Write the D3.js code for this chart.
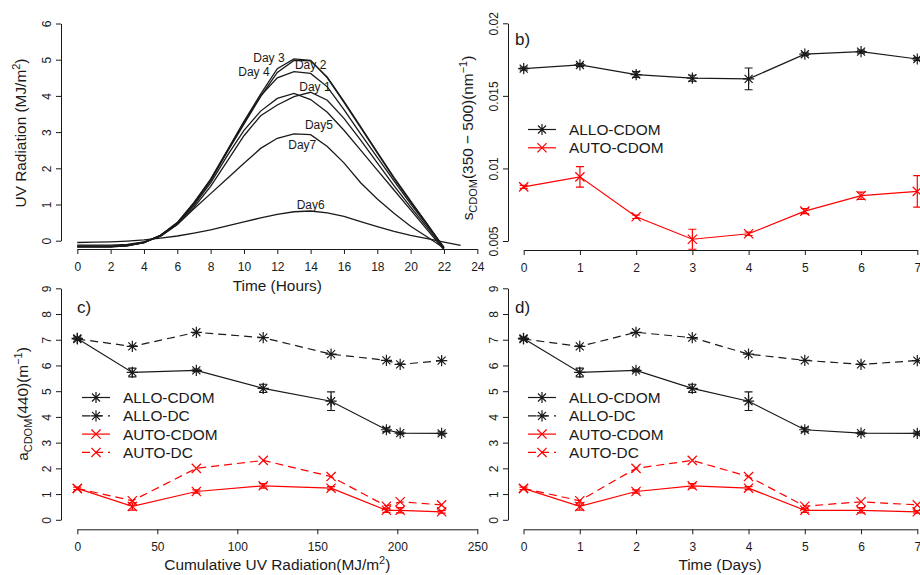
<!DOCTYPE html>
<html>
<head>
<meta charset="utf-8">
<script src="https://cdn.jsdelivr.net/npm/d3@7"></script>
<style>
  body { margin: 0; background: #fff; }
  svg { display: block; font-family: "Liberation Sans", Arial, sans-serif; }
</style>
</head>
<body>
<svg id="chart" width="920" height="575"></svg>
<script>
// a) hourly UV radiation per day
const hours = d3.range(0, 23);
const hoursDay6 = d3.range(0, 24);
const uvDay1 = [-0.16, -0.16, -0.16, -0.13, -0.05, 0.14, 0.45, 0.92, 1.50, 2.20, 2.90, 3.45, 3.75, 3.98, 4.10, 3.88, 3.38, 2.78, 2.15, 1.52, 0.93, 0.36, -0.22];
const uvDay2 = [-0.17, -0.17, -0.17, -0.14, -0.05, 0.15, 0.48, 1.02, 1.66, 2.45, 3.22, 3.98, 4.65, 4.98, 4.97, 4.52, 3.85, 3.15, 2.45, 1.75, 1.10, 0.46, -0.20];
const uvDay3 = [-0.17, -0.17, -0.17, -0.14, -0.05, 0.15, 0.50, 1.05, 1.70, 2.50, 3.30, 4.05, 4.75, 5.02, 4.98, 4.50, 3.82, 3.12, 2.42, 1.72, 1.07, 0.45, -0.20];
const uvDay4 = [-0.15, -0.15, -0.15, -0.12, -0.04, 0.15, 0.50, 1.05, 1.68, 2.48, 3.27, 4.00, 4.50, 4.67, 4.62, 4.25, 3.62, 2.95, 2.30, 1.65, 1.02, 0.42, -0.18];
const uvDay5 = [-0.16, -0.16, -0.16, -0.13, -0.05, 0.14, 0.47, 0.98, 1.60, 2.35, 3.05, 3.58, 3.93, 4.07, 3.90, 3.55, 3.05, 2.50, 1.95, 1.40, 0.85, 0.30, -0.25];
const uvDay6 = [-0.05, -0.04, -0.03, -0.01, 0.02, 0.07, 0.13, 0.21, 0.30, 0.41, 0.52, 0.63, 0.73, 0.80, 0.82, 0.77, 0.67, 0.53, 0.39, 0.26, 0.15, 0.06, -0.04, -0.13];
const uvDay7 = [-0.12, -0.12, -0.12, -0.10, -0.03, 0.12, 0.45, 0.88, 1.30, 1.72, 2.14, 2.55, 2.83, 2.95, 2.93, 2.60, 2.15, 1.60, 1.15, 0.76, 0.40, 0.10, -0.20];
const dayNames = ['Day 1', 'Day 2', 'Day 3', 'Day 4', 'Day5', 'Day6', 'Day7'];
const dayLabelHour = [14.26, 14.0, 11.5, 10.6, 14.5, 14.0, 13.5];
const dayLabelValue = [4.25, 4.85, 5.05, 4.66, 3.2, 1.0, 2.64];
const hourTicks = d3.range(0, 25, 2);
const uvTicks = d3.range(0, 7);

// b) spectral slope
const days = [0, 1, 2, 3, 4, 5, 6, 7];
const sAllo = [0.01688, 0.01713, 0.01647, 0.01622, 0.01617, 0.01787, 0.01805, 0.01754];
const sAlloErr = [0.0001, 0.0001, 0.0002, 0.0002, 0.00075, 0.0001, 0.0001, 0.0001];
const sAuto = [0.00873, 0.00942, 0.00667, 0.00512, 0.0055, 0.00706, 0.00812, 0.00842];
const sAutoErr = [0.0001, 0.00071, 0.00012, 0.00069, 0.00012, 0.00018, 0.00025, 0.00109];
const sTicks = [0.005, 0.01, 0.015, 0.02];

// c) and d) absorption at 440 nm
const cumulativeUV = [0, 34.4, 74.4, 116.2, 158.6, 193.2, 201.8, 227.7];
const aAlloCdom = [7.05, 5.73, 5.81, 5.11, 4.61, 3.50, 3.37, 3.36];
const aAlloCdomErr = [0.05, 0.17, 0.05, 0.16, 0.36, 0.07, 0.04, 0.06];
const aAlloDc = [7.03, 6.74, 7.29, 7.08, 6.44, 6.20, 6.04, 6.19];
const aAutoCdom = [1.22, 0.52, 1.10, 1.32, 1.23, 0.37, 0.37, 0.31];
const aAutoCdomErr = [0.05, 0.14, 0.06, 0.09, 0.06, 0.08, 0.10, 0.05];
const aAutoDc = [1.22, 0.74, 2.00, 2.31, 1.68, 0.53, 0.70, 0.58];
const aTicks = d3.range(0, 10);
const cumTicks = [0, 50, 100, 150, 200, 250];

const INK = '#1a1a1a';
const RED = '#ff0000';
const svg = d3.select('#chart');

function styleAxis(axis) {
    axis.select('.domain').attr('stroke', INK).attr('stroke-width', 1);
    axis.selectAll('.tick line').attr('stroke', INK);
    axis.selectAll('.tick text')
        .attr('font-size', 12)
        .attr('fill', INK)
        .attr('font-family', '"Liberation Sans", Arial, sans-serif');
}

function drawXAxis(x, yPos, ticks, fmt) {
    const axis = svg.append('g')
        .attr('transform', `translate(0,${yPos})`)
        .call(d3.axisBottom(x).tickValues(ticks).tickFormat(fmt).tickSize(5).tickSizeOuter(0).tickPadding(8));
    styleAxis(axis);
}

function drawYAxis(y, xPos, ticks, fmt) {
    const axis = svg.append('g')
        .attr('transform', `translate(${xPos},0)`)
        .call(d3.axisLeft(y).tickValues(ticks).tickFormat(fmt).tickSize(5).tickSizeOuter(0));
    styleAxis(axis);
    // R style: tick labels parallel to the axis
    axis.selectAll('.tick text')
        .attr('x', 0).attr('y', -10).attr('dy', 0)
        .attr('text-anchor', 'middle')
        .attr('transform', 'rotate(-90)');
}

function drawMarker(g, shape, cx, cy, color) {
    const p = d3.path();
    const d = shape === 'star' ? 4 : 4.6;
    p.moveTo(cx - d, cy - d); p.lineTo(cx + d, cy + d);
    p.moveTo(cx - d, cy + d); p.lineTo(cx + d, cy - d);
    if (shape === 'star') {
        const a = 5.6;
        p.moveTo(cx - a, cy); p.lineTo(cx + a, cy);
        p.moveTo(cx, cy - a); p.lineTo(cx, cy + a);
    }
    g.append('path').attr('d', p.toString())
        .attr('fill', 'none').attr('stroke', color).attr('stroke-width', 1.2);
}

function drawSeries(x, y, xs, ys, errs, style) {
    const g = svg.append('g');
    const pts = xs.map((v, i) => [x(v), y(ys[i])]);
    g.append('path')
        .attr('d', d3.line()(pts))
        .attr('fill', 'none')
        .attr('stroke', style.color)
        .attr('stroke-width', 1.2)
        .attr('stroke-dasharray', style.dash ? '8,5' : null);
    if (errs) {
        errs.forEach((e, i) => {
            const px = x(xs[i]);
            const lo = y(ys[i] - e), hi = y(ys[i] + e);
            const p = d3.path();
            p.moveTo(px, lo); p.lineTo(px, hi);
            p.moveTo(px - 4, lo); p.lineTo(px + 4, lo);
            p.moveTo(px - 4, hi); p.lineTo(px + 4, hi);
            g.append('path').attr('d', p.toString())
                .attr('fill', 'none').attr('stroke', style.color).attr('stroke-width', 1.2);
        });
    }
    pts.forEach(p => drawMarker(g, style.shape, p[0], p[1], style.color));
}

function drawLegend(left, top, entries) {
    const g = svg.append('g').attr('transform', `translate(${left},${top})`);
    entries.forEach((s, i) => {
        const row = g.append('g').attr('transform', `translate(0,${i * 18.3})`);
        row.append('line')
            .attr('x1', 0).attr('x2', 28).attr('y1', 0).attr('y2', 0)
            .attr('stroke', s.color).attr('stroke-width', 1.2)
            .attr('stroke-dasharray', s.dash ? '8,5' : null);
        drawMarker(row, s.shape, 14, 0, s.color);
        row.append('text')
            .attr('x', 41).attr('y', 0).attr('dy', '0.36em')
            .attr('font-size', 15.4).attr('fill', INK)
            .text(s.name);
    });
}

// rich text helper: parts are [text, 'sub'|'sup'|null]
function richText(sel, parts) {
    let shift = 0;
    parts.forEach(([t, kind]) => {
        const target = kind === 'sub' ? 4 : kind === 'sup' ? -6 : 0;
        sel.append('tspan')
            .attr('dy', target - shift)
            .attr('font-size', kind ? 11 : null)
            .text(t);
        shift = target;
    });
}

function panelTag(x, y, label) {
    svg.append('text').attr('x', x).attr('y', y)
        .attr('font-size', 17).attr('fill', INK).text(label);
}

// ---------- a) UV radiation over the day ----------
const xa = d3.scaleLinear().domain([0, 24]).range([77.3, 477.3]);
const ya = d3.scaleLinear().domain([0, 6]).range([240.7, 23.5]);
drawXAxis(xa, 249, hourTicks, d3.format('d'));
drawYAxis(ya, 61, uvTicks, d3.format('d'));

const uvDays = [uvDay1, uvDay2, uvDay3, uvDay4, uvDay5, uvDay6, uvDay7];
const uvLine = d3.line().x(d => xa(d[0])).y(d => ya(d[1]));
svg.append('g').selectAll('path')
    .data(uvDays)
    .join('path')
    .attr('d', vals => uvLine(vals.map((v, i) => [(vals.length > 23 ? hoursDay6 : hours)[i], v])))
    .attr('fill', 'none')
    .attr('stroke', INK)
    .attr('stroke-width', 1.3);

svg.append('g').selectAll('text')
    .data(dayNames)
    .join('text')
    .attr('x', (d, i) => xa(dayLabelHour[i]))
    .attr('y', (d, i) => ya(dayLabelValue[i]))
    .attr('dy', '0.36em')
    .attr('text-anchor', 'middle')
    .attr('font-size', 12)
    .attr('fill', INK)
    .text(d => d);

svg.append('text')
    .attr('x', (xa.range()[0] + xa.range()[1]) / 2).attr('y', 291)
    .attr('text-anchor', 'middle').attr('font-size', 15.4).attr('fill', INK)
    .text('Time (Hours)');
richText(svg.append('text')
    .attr('transform', 'translate(26,133) rotate(-90)')
    .attr('text-anchor', 'middle').attr('font-size', 15.4).attr('fill', INK),
    [['UV Radiation (MJ/m', null], ['2', 'sup'], [')', null]]);

// ---------- b) spectral slope ----------
const xb = d3.scaleLinear().domain([0, 7]).range([523.7, 917.3]);
const yb = d3.scaleLinear().domain([0.005, 0.02]).range([241, 23.3]);
drawXAxis(xb, 250, days, d3.format('d'));
drawYAxis(yb, 508, sTicks, d => String(+d.toFixed(3)));

const alloCdom = { name: 'ALLO-CDOM', color: INK, shape: 'star', dash: false };
const alloDc = { name: 'ALLO-DC', color: INK, shape: 'star', dash: true };
const autoCdom = { name: 'AUTO-CDOM', color: RED, shape: 'cross', dash: false };
const autoDc = { name: 'AUTO-DC', color: RED, shape: 'cross', dash: true };

drawSeries(xb, yb, days, sAllo, sAlloErr, alloCdom);
drawSeries(xb, yb, days, sAuto, sAutoErr, autoCdom);
drawLegend(528, 129.5, [alloCdom, autoCdom]);
panelTag(515, 45, 'b)');
richText(svg.append('text')
    .attr('transform', 'translate(473,138) rotate(-90)')
    .attr('text-anchor', 'middle').attr('font-size', 15.4).attr('fill', INK),
    [['s', null], ['CDOM', 'sub'], ['(350 \u2212 500)(nm', null], ['\u22121', 'sup'], [')', null]]);

// ---------- c) absorption vs cumulative UV ----------
const xc = d3.scaleLinear().domain([0, 250]).range([77.3, 477.3]);
const yc = d3.scaleLinear().domain([0, 9]).range([519.8, 288.3]);
drawXAxis(xc, 529.3, cumTicks, d3.format('d'));
drawYAxis(yc, 61, aTicks, d3.format('d'));

drawSeries(xc, yc, cumulativeUV, aAlloDc, null, alloDc);
drawSeries(xc, yc, cumulativeUV, aAlloCdom, aAlloCdomErr, alloCdom);
drawSeries(xc, yc, cumulativeUV, aAutoDc, null, autoDc);
drawSeries(xc, yc, cumulativeUV, aAutoCdom, aAutoCdomErr, autoCdom);
drawLegend(82, 397.5, [alloCdom, alloDc, autoCdom, autoDc]);
panelTag(77, 313, 'c)');

richText(svg.append('text')
    .attr('x', (xc.range()[0] + xc.range()[1]) / 2).attr('y', 570)
    .attr('text-anchor', 'middle').attr('font-size', 15.4).attr('fill', INK),
    [['Cumulative UV Radiation(MJ/m', null], ['2', 'sup'], [')', null]]);
richText(svg.append('text')
    .attr('transform', 'translate(28,404) rotate(-90)')
    .attr('text-anchor', 'middle').attr('font-size', 15.4).attr('fill', INK),
    [['a', null], ['CDOM', 'sub'], ['(440)(m', null], ['\u22121', 'sup'], [')', null]]);

// ---------- d) absorption vs time ----------
const xd = d3.scaleLinear().domain([0, 7]).range([523.5, 917.3]);
const yd = d3.scaleLinear().domain([0, 9]).range([519.8, 288.3]);
drawXAxis(xd, 529.3, days, d3.format('d'));
drawYAxis(yd, 508, aTicks, d3.format('d'));

drawSeries(xd, yd, days, aAlloDc, null, alloDc);
drawSeries(xd, yd, days, aAlloCdom, aAlloCdomErr, alloCdom);
drawSeries(xd, yd, days, aAutoDc, null, autoDc);
drawSeries(xd, yd, days, aAutoCdom, aAutoCdomErr, autoCdom);
drawLegend(528, 397.5, [alloCdom, alloDc, autoCdom, autoDc]);
panelTag(515, 313, 'd)');

svg.append('text')
    .attr('x', 720).attr('y', 570)
    .attr('text-anchor', 'middle').attr('font-size', 15.4).attr('fill', INK)
    .text('Time (Days)');
</script>
</body>
</html>
